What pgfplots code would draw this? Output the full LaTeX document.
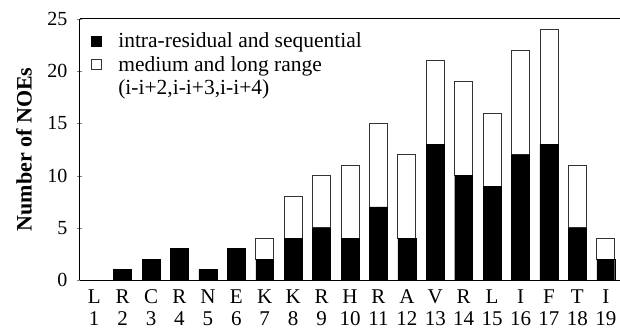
\documentclass[border=0pt]{standalone}
\usepackage{pgfplots}
\pgfplotsset{compat=1.18}
\usepackage{fontspec}
\setmainfont{Liberation Serif}
\begin{document}
\begin{tikzpicture}[font=\fontsize{21bp}{22bp}\selectfont]
\useasboundingbox (-80bp,-51bp) rectangle (540bp,280bp);
\begin{axis}[
  scale only axis,
  width=540bp, height=261bp,
  at={(0,0)}, anchor=south west,
  ybar stacked,
  bar width=0.63,
  xmin=0.5, xmax=19.5,
  ymin=0, ymax=25,
  ytick={0,5,10,15,20,25},
  xtick={1,...,19},
  xticklabels={L\\1,R\\2,C\\3,R\\4,N\\5,E\\6,K\\7,K\\8,R\\9,H\\10,R\\11,A\\12,V\\13,R\\14,L\\15,I\\16,F\\17,T\\18,I\\19},
  xticklabel style={align=center, inner sep=0bp, yshift=-7bp},
  yticklabel style={font=\fontsize{20bp}{20bp}\selectfont, inner sep=0bp, xshift=-10bp},
  x tick style={draw=none},
  tick align=outside,
  major tick length=5bp,
  axis x line=bottom,
  axis y line=left,
  axis line style={-, line width=1bp},
  /pgf/number format/assume math mode=true,
  ylabel={\textbf{Number of NOEs}},
  ylabel style={at={(axis description cs:-0.1037,0.5)}, anchor=center, font=\fontsize{22bp}{22bp}\selectfont},
  legend style={draw=none, fill=none, at={(axis description cs:0.02,0.955)}, anchor=north west, row sep=3bp,
    inner sep=0bp, legend cell align=left, font=\fontsize{21.5bp}{24bp}\selectfont},
  legend image code/.code={\draw[#1, line width=0.6bp] (0bp,-5bp) rectangle (10bp,5bp); \path[draw=none,fill=none] (0bp,0bp) -- (25bp,0bp);},
]
\addplot[fill=black, draw=black] coordinates {
(1,0) (2,1) (3,2) (4,3) (5,1) (6,3) (7,2) (8,4) (9,5) (10,4) (11,7) (12,4) (13,13) (14,10) (15,9) (16,12) (17,13) (18,5) (19,2)};
\addplot[fill=white, draw=black!80, line width=0.8bp] coordinates {
(1,0) (2,0) (3,0) (4,0) (5,0) (6,0) (7,2) (8,4) (9,5) (10,7) (11,8) (12,8) (13,8) (14,9) (15,7) (16,10) (17,11) (18,6) (19,2)};
\addlegendentry{intra-residual and sequential}
\addlegendentry{medium and long range}
\addlegendimage{empty legend}
\addlegendentry{(i-i+2,i-i+3,i-i+4)}
\draw[line width=1bp] (rel axis cs:0,1) -- (rel axis cs:1,1);
\end{axis}
\end{tikzpicture}
\end{document}
